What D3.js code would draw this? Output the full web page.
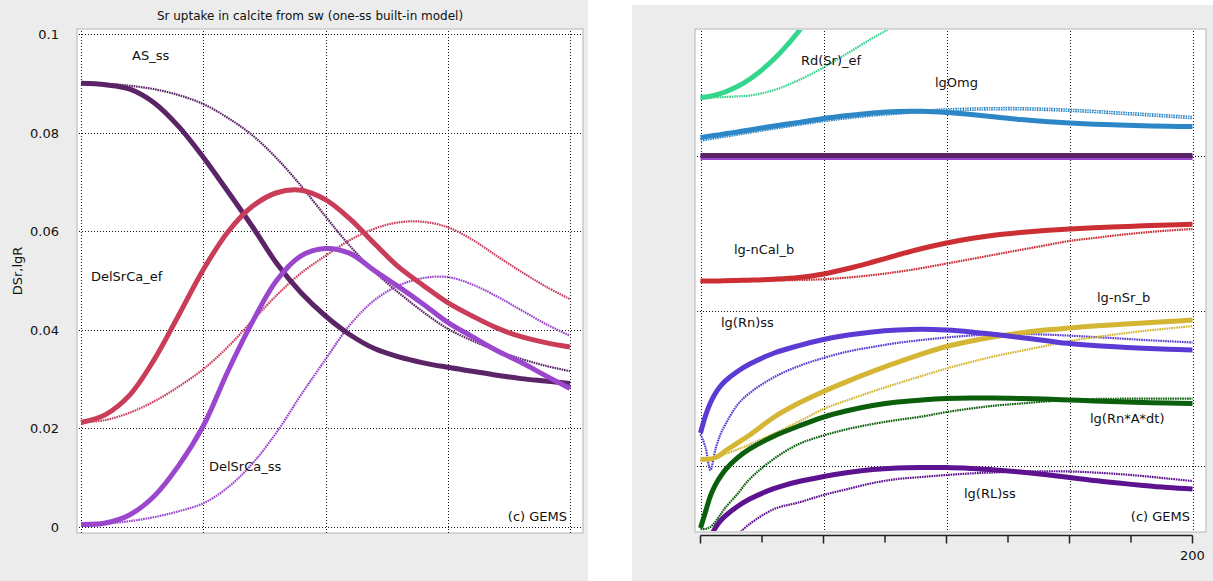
<!DOCTYPE html>
<html>
<head>
<meta charset="utf-8">
<script src="https://cdn.jsdelivr.net/npm/d3@7/dist/d3.min.js"></script>
<style>
  html, body { margin: 0; padding: 0; background: #ffffff; }
  svg { display: block; font-family: "DejaVu Sans", sans-serif; }
</style>
</head>
<body>
<svg id="chart" width="1213" height="581"></svg>
<script>
// ---------------- left panel: Sr uptake (DSr, lgR) ----------------
const xLeft = [0,10,20,30,40,50,60,70,80,90,100,110,120,130,140,150,160,170,180,190,200];

const asSsRun1 = [0.0900,0.0897,0.0888,0.0860,0.0812,0.0750,0.0681,0.0610,0.0535,0.0475,0.0428,0.0390,0.0362,0.0345,0.0333,0.0324,0.0316,0.0308,0.0301,0.0296,0.0291];
const asSsRun2 = [0.0900,0.0899,0.0895,0.0888,0.0876,0.0858,0.0830,0.0795,0.0748,0.0692,0.0630,0.0570,0.0518,0.0475,0.0436,0.0402,0.0378,0.0358,0.0341,0.0327,0.0316];
const delEfRun1 = [0.0212,0.0228,0.0268,0.0340,0.0430,0.0522,0.0598,0.0650,0.0678,0.0683,0.0664,0.0625,0.0575,0.0527,0.0490,0.0455,0.0428,0.0404,0.0386,0.0374,0.0365];
const delEfRun2 = [0.0212,0.0217,0.0232,0.0255,0.0285,0.0320,0.0365,0.0418,0.0470,0.0515,0.0550,0.0582,0.0605,0.0618,0.0619,0.0608,0.0583,0.0550,0.0518,0.0488,0.0462];
const delSsRun1 = [0.0005,0.0008,0.0025,0.0063,0.0125,0.0205,0.0315,0.0415,0.0500,0.0550,0.0565,0.0555,0.0520,0.0487,0.0452,0.0415,0.0386,0.0358,0.0334,0.0307,0.0281];
const delSsRun2 = [0.0005,0.0007,0.0012,0.0020,0.0032,0.0048,0.0080,0.0128,0.0192,0.0268,0.0340,0.0410,0.0460,0.0490,0.0505,0.0507,0.0492,0.0468,0.0440,0.0412,0.0388];

const leftTicks = [0, 0.02, 0.04, 0.06, 0.08, 0.1];
const leftTickLabels = ["0", "0.02", "0.04", "0.06", "0.08", "0.1"];

// ---------------- right panel: log quantities ----------------
const xRight = [0,2,4,6,8,10,15,20,30,40,50,60,70,80,90,100,110,120,130,140,150,160,170,180,190,200];

const rdSrRun1 = [1.378,1.381,1.386,1.393,1.402,1.413,1.448,1.495,1.627,1.806,2.030,null,null,null,null,null,null,null,null,null,null,null,null,null,null,null];
const rdSrRun2 = [1.378,1.378,1.378,1.379,1.379,1.381,1.385,1.390,1.426,1.490,1.571,1.665,1.761,1.848,1.935,null,null,null,null,null,null,null,null,null,null,null];
const lgOmgRun1 = [1.119,1.124,1.129,1.134,1.138,1.143,1.155,1.168,1.194,1.217,1.242,1.261,1.277,1.287,1.288,1.281,1.268,1.252,1.235,1.223,1.213,1.205,1.200,1.195,1.192,1.190];
const lgOmgRun2 = [1.103,1.108,1.114,1.119,1.124,1.129,1.142,1.155,1.181,1.206,1.229,1.248,1.265,1.277,1.288,1.297,1.302,1.305,1.305,1.301,1.295,1.287,1.277,1.268,1.258,1.248];
const asSsLevel = [1.003,1.003,1.003,1.003,1.003,1.003,1.003,1.003,1.003,1.003,1.003,1.003,1.003,1.003,1.003,1.003,1.003,1.003,1.003,1.003,1.003,1.003,1.003,1.003,1.003,1.003];
const delSsLevel = [0.990,0.990,0.990,0.990,0.990,0.990,0.990,0.990,0.990,0.990,0.990,0.990,0.990,0.990,0.990,0.990,0.990,0.990,0.990,0.990,0.990,0.990,0.990,0.990,0.990,0.990];
const nCalRun1 = [0.194,0.194,0.194,0.194,0.194,0.195,0.197,0.199,0.205,0.216,0.239,0.274,0.316,0.361,0.403,0.439,0.468,0.490,0.506,0.519,0.529,0.537,0.543,0.550,0.555,0.559];
const nCalRun2 = [0.190,0.190,0.190,0.190,0.190,0.190,0.192,0.194,0.197,0.200,0.205,0.216,0.232,0.252,0.277,0.306,0.335,0.365,0.394,0.423,0.452,0.471,0.490,0.506,0.519,0.529];
const rnSsRun1 = [-0.787,-0.677,-0.594,-0.532,-0.487,-0.452,-0.390,-0.342,-0.271,-0.223,-0.184,-0.155,-0.135,-0.123,-0.118,-0.123,-0.135,-0.152,-0.171,-0.190,-0.210,-0.223,-0.232,-0.241,-0.247,-0.252];
const rnSsRun2 = [-0.794,-0.877,-1.026,-0.897,-0.800,-0.735,-0.606,-0.529,-0.426,-0.355,-0.303,-0.261,-0.232,-0.206,-0.187,-0.171,-0.158,-0.150,-0.148,-0.152,-0.159,-0.168,-0.177,-0.187,-0.195,-0.203];
const nSrRun1 = [-0.958,-0.957,-0.955,-0.945,-0.929,-0.903,-0.852,-0.800,-0.684,-0.594,-0.519,-0.452,-0.390,-0.332,-0.277,-0.229,-0.194,-0.165,-0.142,-0.123,-0.110,-0.097,-0.087,-0.077,-0.068,-0.058];
const nSrRun2 = [-0.958,-0.957,-0.954,-0.947,-0.935,-0.923,-0.894,-0.861,-0.790,-0.713,-0.632,-0.574,-0.519,-0.468,-0.419,-0.371,-0.329,-0.290,-0.258,-0.226,-0.194,-0.170,-0.148,-0.129,-0.113,-0.097];
const rnAdtRun1 = [-1.400,-1.297,-1.194,-1.123,-1.071,-1.026,-0.948,-0.890,-0.806,-0.742,-0.684,-0.642,-0.610,-0.587,-0.574,-0.565,-0.561,-0.561,-0.565,-0.568,-0.574,-0.581,-0.586,-0.590,-0.594,-0.597];
const rnAdtRun2 = [-1.406,-1.406,-1.394,-1.361,-1.316,-1.271,-1.181,-1.084,-0.952,-0.858,-0.803,-0.761,-0.729,-0.703,-0.681,-0.652,-0.629,-0.610,-0.597,-0.584,-0.573,-0.568,-0.566,-0.565,-0.565,-0.565];
const rlSsRun1 = [null,null,-1.458,-1.400,-1.355,-1.323,-1.261,-1.213,-1.145,-1.100,-1.068,-1.042,-1.023,-1.013,-1.010,-1.010,-1.016,-1.026,-1.039,-1.055,-1.074,-1.094,-1.110,-1.126,-1.139,-1.148];
const rlSsRun2 = [null,null,null,null,null,null,-1.445,-1.374,-1.277,-1.235,-1.187,-1.148,-1.110,-1.084,-1.071,-1.058,-1.048,-1.041,-1.035,-1.034,-1.035,-1.042,-1.052,-1.065,-1.081,-1.097];

const rightGrid = [-1, 0, 1];
const rightXTicks = [0, 25, 50, 75, 100, 125, 150, 175, 200];

// ---------------- drawing ----------------
const svg = d3.select("#chart");
const W = 1213, H = 581;

svg.append("rect").attr("width", W).attr("height", H).attr("fill", "#ffffff");

// window backgrounds
svg.append("rect").attr("x", 0).attr("y", 0).attr("width", 588).attr("height", H).attr("fill", "#ececec");
svg.append("rect").attr("x", 632).attr("y", 5).attr("width", W - 632).attr("height", H - 5).attr("fill", "#ececec");

const gridDash = "1,2";

function panel(cfg) {
  const g = svg.append("g");
  const { box, x, y } = cfg;
  g.append("rect")
    .attr("x", box.x0).attr("y", box.y0)
    .attr("width", box.x1 - box.x0).attr("height", box.y1 - box.y0)
    .attr("fill", "#ffffff").attr("stroke", "#b4b4b4").attr("stroke-width", 1);

  // grid
  g.selectAll(".vg").data(cfg.xGrid).enter().append("line")
    .attr("x1", d => Math.round(x(d)) + 0.5).attr("x2", d => Math.round(x(d)) + 0.5)
    .attr("y1", box.y0 + 2).attr("y2", box.y1)
    .attr("stroke", "#111").attr("stroke-width", 1).attr("stroke-dasharray", gridDash);
  g.selectAll(".hg").data(cfg.yGrid).enter().append("line")
    .attr("y1", d => Math.round(y(d)) + 0.5).attr("y2", d => Math.round(y(d)) + 0.5)
    .attr("x1", box.x0 + 2).attr("x2", box.x1)
    .attr("stroke", "#111").attr("stroke-width", 1).attr("stroke-dasharray", gridDash);

  const clipId = "clip" + cfg.id;
  svg.append("clipPath").attr("id", clipId).append("rect")
    .attr("x", box.x0 + 1).attr("y", box.y0 + 1)
    .attr("width", box.x1 - box.x0 - 2).attr("height", box.y1 - box.y0 - 2);

  const lines = g.append("g").attr("clip-path", `url(#${clipId})`);
  cfg.series.forEach(s => {
    const pts = cfg.xs.map((xv, i) => [xv, s.values[i]]);
    const gen = d3.line()
      .defined(d => d[1] !== null && d[1] !== undefined)
      .x(d => x(d[0])).y(d => y(d[1]))
      .curve(d3.curveCatmullRom.alpha(0.5));
    lines.append("path")
      .attr("d", gen(pts))
      .attr("fill", "none")
      .attr("stroke", s.color)
      .attr("stroke-width", s.bold ? 5 : (s.hollow ? 3.6 : 2.2))
      .attr("stroke-dasharray", s.bold ? null : "1.6,0.8");
    if (s.hollow) {
      lines.append("path")
        .attr("d", gen(pts))
        .attr("fill", "none")
        .attr("stroke", "#ffffff")
        .attr("stroke-width", 0.9)
        .attr("stroke-dasharray", "2,1.5");
    }
  });

  // labels
  g.selectAll(".lab").data(cfg.labels).enter().append("text")
    .attr("x", d => d.x).attr("y", d => d.y)
    .attr("font-size", 13).attr("fill", "#111")
    .attr("text-anchor", d => d.anchor || "start")
    .text(d => d.t);
  return g;
}

// left panel
const xL = d3.scaleLinear().domain([0, 200]).range([81, 570]);
const yL = d3.scaleLinear().domain([0, 0.1]).range([527, 34]);
panel({
  id: "L",
  box: { x0: 77, y0: 29, x1: 583, y1: 533 },
  x: xL, y: yL, xs: xLeft,
  xGrid: [0, 50, 100, 150, 200],
  yGrid: leftTicks,
  series: [
    { values: asSsRun2, color: "#5b2466", bold: false },
    { values: delEfRun2, color: "#cc3e5c", bold: false },
    { values: delSsRun2, color: "#9a44cf", bold: false },
    { values: asSsRun1, color: "#5b2466", bold: true },
    { values: delEfRun1, color: "#c93d58", bold: true },
    { values: delSsRun1, color: "#9b47cd", bold: true }
  ],
  labels: [
    { t: "AS_ss", x: 132, y: 60 },
    { t: "DelSrCa_ef", x: 91, y: 281 },
    { t: "DelSrCa_ss", x: 209, y: 471 },
    { t: "(c) GEMS", x: 567, y: 521, anchor: "end" }
  ]
});

// left axis
const yAxisG = svg.append("g");
yAxisG.selectAll("text").data(leftTicks).enter().append("text")
  .attr("x", 59).attr("y", d => yL(d) + 5)
  .attr("text-anchor", "end").attr("font-size", 13).attr("fill", "#111")
  .text((d, i) => leftTickLabels[i]);
svg.append("text")
  .attr("transform", "translate(22,271) rotate(-90)")
  .attr("text-anchor", "middle").attr("font-size", 13).attr("fill", "#111")
  .text("DSr,lgR");
svg.append("text")
  .attr("x", 310).attr("y", 20)
  .attr("text-anchor", "middle").attr("font-size", 12).attr("fill", "#111")
  .text("Sr uptake in calcite from sw (one-ss built-in model)");

// right panel
const xR = d3.scaleLinear().domain([0, 200]).range([700.5, 1192.5]);
const yR = d3.scaleLinear().domain([-1, 1]).range([466, 156]);
panel({
  id: "R",
  box: { x0: 695, y0: 29, x1: 1206, y1: 532 },
  x: xR, y: yR, xs: xRight,
  xGrid: [0, 50, 100, 150, 200],
  yGrid: rightGrid,
  series: [
    { values: rdSrRun2, color: "#35d48e", bold: false },
    { values: lgOmgRun2, color: "#2e86c6", bold: false, hollow: true },
    { values: nCalRun2, color: "#c92f35", bold: false },
    { values: rnSsRun2, color: "#5a3ad3", bold: false },
    { values: nSrRun2, color: "#d3b535", bold: false },
    { values: rnAdtRun2, color: "#0c5f0c", bold: false },
    { values: rlSsRun2, color: "#5e1190", bold: false },
    { values: delSsLevel, color: "#9a45cf", bold: true },
    { values: asSsLevel, color: "#5b2466", bold: true },
    { values: rdSrRun1, color: "#33d68c", bold: true },
    { values: lgOmgRun1, color: "#2d87c7", bold: true },
    { values: nCalRun1, color: "#cb2f33", bold: true },
    { values: nSrRun1, color: "#d4b634", bold: true },
    { values: rnSsRun1, color: "#5b3bd4", bold: true },
    { values: rnAdtRun1, color: "#0b5f0c", bold: true },
    { values: rlSsRun1, color: "#5d1290", bold: true }
  ],
  labels: [
    { t: "Rd(Sr)_ef", x: 801, y: 65 },
    { t: "lgOmg", x: 935, y: 87 },
    { t: "lg-nCal_b", x: 734, y: 254 },
    { t: "lg-nSr_b", x: 1097, y: 302 },
    { t: "lg(Rn)ss", x: 721, y: 327 },
    { t: "lg(Rn*A*dt)", x: 1090, y: 423 },
    { t: "lg(RL)ss", x: 964, y: 498 },
    { t: "(c) GEMS", x: 1190, y: 521, anchor: "end" }
  ]
});

// bottom axis of right panel
const axG = svg.append("g").attr("transform", "translate(0,535.5)");
axG.append("line").attr("x1", xR(0)).attr("x2", xR(200)).attr("stroke", "#222").attr("stroke-width", 1.5);
axG.selectAll(".tk").data(rightXTicks).enter().append("line")
  .attr("x1", d => xR(d)).attr("x2", d => xR(d))
  .attr("y1", 0).attr("y2", d => d % 50 === 0 ? 8 : 7)
  .attr("stroke", "#222").attr("stroke-width", 1.5);
axG.append("text").attr("x", xR(200)).attr("y", 24)
  .attr("text-anchor", "middle").attr("font-size", 13).attr("fill", "#111").text("200");
</script>
</body>
</html>
